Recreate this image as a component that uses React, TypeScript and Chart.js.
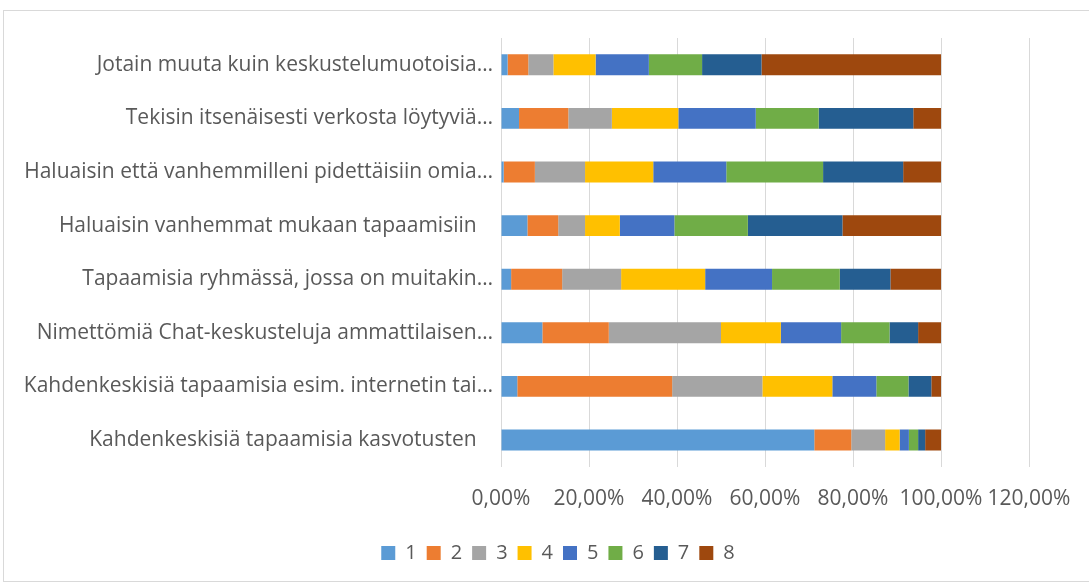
import React, { useEffect, useRef } from "react";
import { Chart, registerables } from "chart.js";

Chart.register(...registerables);

const categories = [
  "Jotain muuta kuin keskustelumuotoisia…",
  "Tekisin itsenäisesti verkosta löytyviä…",
  "Haluaisin että vanhemmilleni pidettäisiin omia…",
  "Haluaisin vanhemmat mukaan tapaamisiin   ",
  "Tapaamisia ryhmässä, jossa on muitakin…",
  "Nimettömiä Chat-keskusteluja ammattilaisen…",
  "Kahdenkeskisiä tapaamisia esim. internetin tai…",
  "Kahdenkeskisiä tapaamisia kasvotusten   ",
];

const seriesNames = ["1", "2", "3", "4", "5", "6", "7", "8"];

const s1 = [1.5, 4.1, 0.6, 6.0, 2.3, 9.4, 3.7, 71.2];
const s2 = [4.7, 11.2, 7.1, 7.0, 11.6, 15.1, 35.2, 8.4];
const s3 = [5.7, 9.9, 11.4, 6.1, 13.4, 25.5, 20.5, 7.7];
const s4 = [9.6, 15.1, 15.5, 7.9, 19.1, 13.6, 15.9, 3.3];
const s5 = [12.1, 17.6, 16.6, 12.4, 15.2, 13.7, 10.0, 2.1];
const s6 = [12.1, 14.3, 22.0, 16.7, 15.4, 11.0, 7.3, 2.1];
const s7 = [13.5, 21.5, 18.2, 21.5, 11.5, 6.5, 5.2, 1.6];
const s8 = [40.8, 6.3, 8.6, 22.4, 11.5, 5.2, 2.2, 3.6];

const xTicks = [0, 20, 40, 60, 80, 100, 120];

const colors = ["#5B9BD5", "#ED7D31", "#A5A5A5", "#FFC000", "#4472C4", "#70AD47", "#255E91", "#9E480E"];

const FONT = "'Open Sans', sans-serif";

const centerLegend = {
  id: "centerLegend",
  afterLayout(chart: any) {
    const lg = chart.legend;
    if (lg) {
      lg.left = 0;
      lg.right = chart.width;
    }
  },
};

export default function App() {
  const ref = useRef<HTMLCanvasElement | null>(null);
  useEffect(() => {
    document.body.style.margin = "0";
    document.body.style.overflow = "hidden";
    const all = [s1, s2, s3, s4, s5, s6, s7, s8];
    const chart = new Chart(ref.current!, {
      type: "bar",
      data: {
        labels: categories,
        datasets: all.map((d, i) => ({
          label: seriesNames[i],
          data: d,
          backgroundColor: colors[i],
          borderWidth: 0,
          barPercentage: 0.39,
          categoryPercentage: 1,
        })),
      },
      plugins: [centerLegend],
      options: {
        indexAxis: "y",
        animation: false,
        responsive: false,
        maintainAspectRatio: false,
        layout: { padding: { top: 28, left: 0, right: 84, bottom: 10 } },
        plugins: {
          tooltip: { enabled: false },
          legend: {
            position: "bottom",
            labels: {
              boxWidth: 14,
              boxHeight: 14,
              padding: 10,
              color: "#595959",
              font: { family: FONT, size: 20 },
            },
          },
        },
        scales: {
          x: {
            stacked: true,
            min: 0,
            max: 120,
            afterBuildTicks: (s: any) => {
              s.ticks = xTicks.map((v) => ({ value: v }));
            },
            afterFit: (s: any) => {
              s.height += 2;
            },
            grid: { color: "#d9d9d9", lineWidth: 1, drawTicks: false },
            border: { display: false },
            ticks: {
              color: "#595959",
              font: { family: FONT, size: 21 },
              padding: 19.5,
              maxRotation: 0,
              autoSkip: false,
              callback: (v: any) => Number(v).toFixed(2).replace(".", ",") + "%",
            },
          },
          y: {
            stacked: true,
            afterFit: (s: any) => {
              s.width = 498;
            },
            grid: { display: false },
            border: { display: false },
            ticks: {
              color: "#595959",
              font: { family: FONT, size: 21 },
              padding: 0,
              autoSkip: false,
            },
          },
        },
      },
    });
    return () => chart.destroy();
  }, []);
  return (
    <div style={{ position: "relative", width: 1089, height: 583, overflow: "hidden", background: "#fff" }}>
      <div
        style={{
          position: "absolute",
          left: 3,
          top: 10,
          width: 1110,
          height: 572,
          border: "1px solid #d9d9d9",
          boxSizing: "border-box",
        }}
      />
      <canvas ref={ref} width={1110} height={573} style={{ position: "absolute", left: 3, top: 10, width: 1110, height: 573 }} />
    </div>
  );
}
